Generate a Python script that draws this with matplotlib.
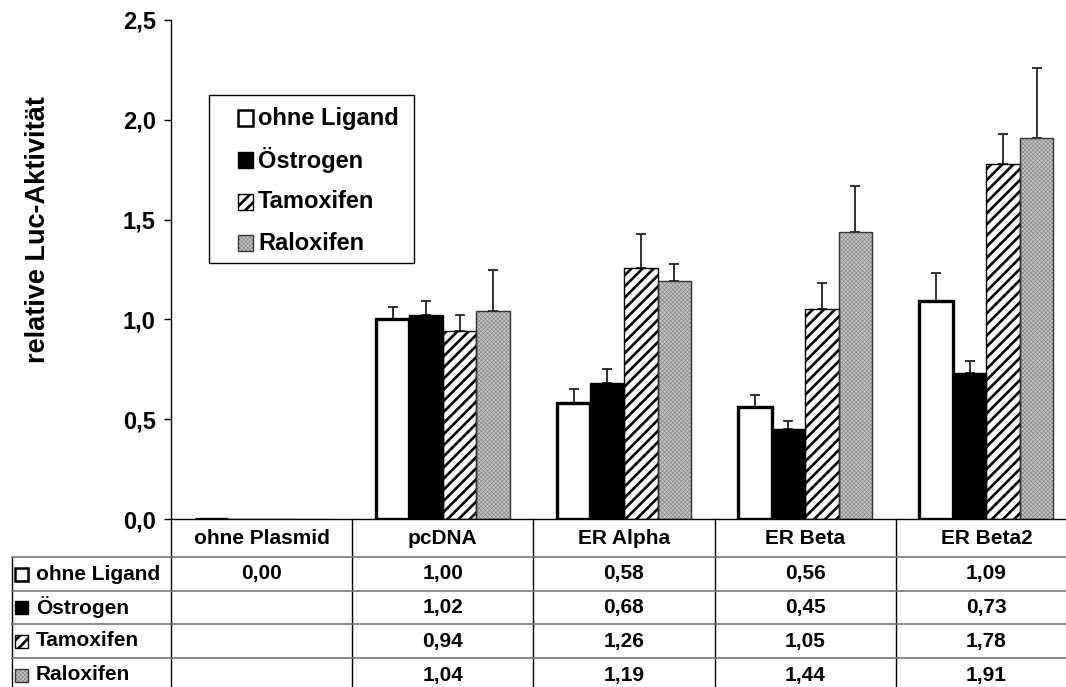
import matplotlib
matplotlib.use("Agg")
import matplotlib.pyplot as plt
import numpy as np
from matplotlib.patches import Rectangle
from matplotlib.ticker import FuncFormatter

plt.rcParams["font.family"] = ["Liberation Sans", "DejaVu Sans"]
plt.rcParams["font.weight"] = "bold"

# Luciferase activity relative to pcDNA, mean and upper error per construct
constructs = ["ohne Plasmid", "pcDNA", "ER Alpha", "ER Beta", "ER Beta2"]
treatments = ["ohne Ligand", "Östrogen", "Tamoxifen", "Raloxifen"]
ohne_ligand = [0.00, 1.00, 0.58, 0.56, 1.09]
oestrogen = [np.nan, 1.02, 0.68, 0.45, 0.73]
tamoxifen = [np.nan, 0.94, 1.26, 1.05, 1.78]
raloxifen = [np.nan, 1.04, 1.19, 1.44, 1.91]
err_ohne_ligand = [0.0, 0.06, 0.07, 0.06, 0.14]
err_oestrogen = [np.nan, 0.07, 0.07, 0.04, 0.06]
err_tamoxifen = [np.nan, 0.08, 0.17, 0.13, 0.15]
err_raloxifen = [np.nan, 0.21, 0.09, 0.23, 0.35]
yticks = [0.0, 0.5, 1.0, 1.5, 2.0, 2.5]

values = [ohne_ligand, oestrogen, tamoxifen, raloxifen]
errors = [err_ohne_ligand, err_oestrogen, err_tamoxifen, err_raloxifen]

W, H = 1066, 687
FS_TAB = 15
FS_BIG = 17

# bar look per treatment: (face, hatch colour, hatch, edge, edge width, hatch width)
styles = [
    ("white", "black", None, "black", 2.4, 1.0),
    ("black", "black", None, "black", 1.0, 1.0),
    ("white", "black", "///", "black", 1.0, 1.9),
    ("#c4c4c4", "#8a8a8a", "xxxxxxxx", "#333333", 1.0, 0.5),
]


def draw_bar(ax, x, h, width, style, zorder=2):
    face, hcol, hatch, edge, lw, hlw = style
    with plt.rc_context({"hatch.linewidth": hlw}):
        ax.bar(x, h, width, color=face, edgecolor=hcol, hatch=hatch,
               linewidth=0, zorder=zorder)
    ax.bar(x, h, width, fill=False, edgecolor=edge, linewidth=lw,
           zorder=zorder + 0.1)


def swatch(ax, x0, y0, size_x, size_y, style, transform):
    face, hcol, hatch, edge, lw, hlw = style
    with plt.rc_context({"hatch.linewidth": hlw}):
        ax.add_patch(Rectangle((x0, y0), size_x, size_y, facecolor=face,
                               edgecolor=hcol, hatch=hatch, linewidth=0,
                               transform=transform, clip_on=False))
    ax.add_patch(Rectangle((x0, y0), size_x, size_y, fill=False,
                           edgecolor=edge, linewidth=min(lw, 1.8),
                           transform=transform, clip_on=False))


fig = plt.figure(figsize=(W / 100, H / 100), dpi=100)

# main bar chart: left edge at x=171 px, zero line at y=519 px, top at y=20 px
ax = fig.add_axes([171 / W, (H - 519) / H, 906 / W, 499 / H])
x = np.arange(len(constructs))
bw = 0.185
for i, (vals, errs) in enumerate(zip(values, errors)):
    xs = x + (i - 1.5) * bw
    vals = np.asarray(vals, dtype=float)
    errs = np.asarray(errs, dtype=float)
    draw_bar(ax, xs, np.nan_to_num(vals), bw, styles[i])
    ok = ~np.isnan(vals) & (vals > 0)
    ax.errorbar(xs[ok], vals[ok], yerr=[np.zeros(ok.sum()), errs[ok]],
                fmt="none", ecolor="#222222", elinewidth=1.3, capsize=3.6,
                capthick=1.3, zorder=1)

ax.set_xlim(-0.5, 4.5)
ax.set_ylim(0, 2.5)
ax.set_yticks(yticks)
ax.yaxis.set_major_formatter(FuncFormatter(lambda v, _: f"{v:.1f}".replace(".", ",")))
ax.tick_params(axis="y", direction="out", length=5, width=1, pad=6, labelsize=FS_BIG)
ax.tick_params(axis="x", bottom=False, labelbottom=False)
for side in ("top", "right"):
    ax.spines[side].set_visible(False)
for side in ("left", "bottom"):
    ax.spines[side].set_linewidth(1.0)
    ax.spines[side].set_color("black")
for lab in ax.get_yticklabels():
    lab.set_fontweight("bold")

fig.text(38 / W, 1 - 230 / H, "relative Luc-Aktivität", rotation=90,
         ha="center", va="center", fontsize=19.5, fontweight="bold")

# legend box, drawn in figure pixels
fig_px = fig.transFigure
leg = Rectangle((209 / W, 1 - 263 / H), 205 / W, 168 / H, fill=False,
                edgecolor="black", linewidth=1.0, transform=fig_px)
fig.patches.append(leg)
leg_y = [118, 160, 202, 243]
for i, name in enumerate(treatments):
    yc = leg_y[i]
    swatch(ax, 238 / W, 1 - (yc + 7.5) / H, 15 / W, 15 / H, styles[i], fig_px)
    fig.text(258 / W, 1 - yc / H, name, ha="left", va="center",
             fontsize=FS_BIG, fontweight="bold")

# data table under the x axis, y measured in pixels below the zero line
tab = fig.add_axes([171 / W, 0, 906 / W, (H - 519) / H])
tab.set_xlim(-0.5, 4.5)
tab.set_ylim(H - 519, 0)
tab.axis("off")
row_edges = [0, 38, 72, 105, 139, 173]
label_left = -0.5 - 159 / 181.2
for xe in np.arange(-0.5, 5.0, 1.0):
    tab.plot([xe, xe], [0, row_edges[-1]], color="black", lw=1.0, clip_on=False)
tab.plot([label_left, label_left], [row_edges[1], row_edges[-1]], color="black",
         lw=1.0, clip_on=False)
for ye in row_edges[1:-1]:
    tab.plot([label_left, 4.5], [ye, ye], color="#777777", lw=1.2, clip_on=False)

for j, name in enumerate(constructs):
    tab.text(j, (row_edges[0] + row_edges[1]) / 2, name, ha="center", va="center",
             fontsize=FS_TAB, fontweight="bold")

blend = matplotlib.transforms.blended_transform_factory(fig.transFigure, tab.transData)
for i, name in enumerate(treatments):
    yc = (row_edges[i + 1] + row_edges[i + 2]) / 2
    swatch(tab, 15 / W, yc + 6.5, 13 / W, -13, styles[i], blend)
    tab.text(label_left + 24 / 181.2, yc, name, ha="left", va="center",
             fontsize=FS_TAB, fontweight="bold", clip_on=False)
    for j, v in enumerate(values[i]):
        if not np.isnan(v):
            tab.text(j, yc, f"{v:.2f}".replace(".", ","), ha="center",
                     va="center", fontsize=FS_TAB, fontweight="bold")

fig.savefig("out.png", dpi=100)
